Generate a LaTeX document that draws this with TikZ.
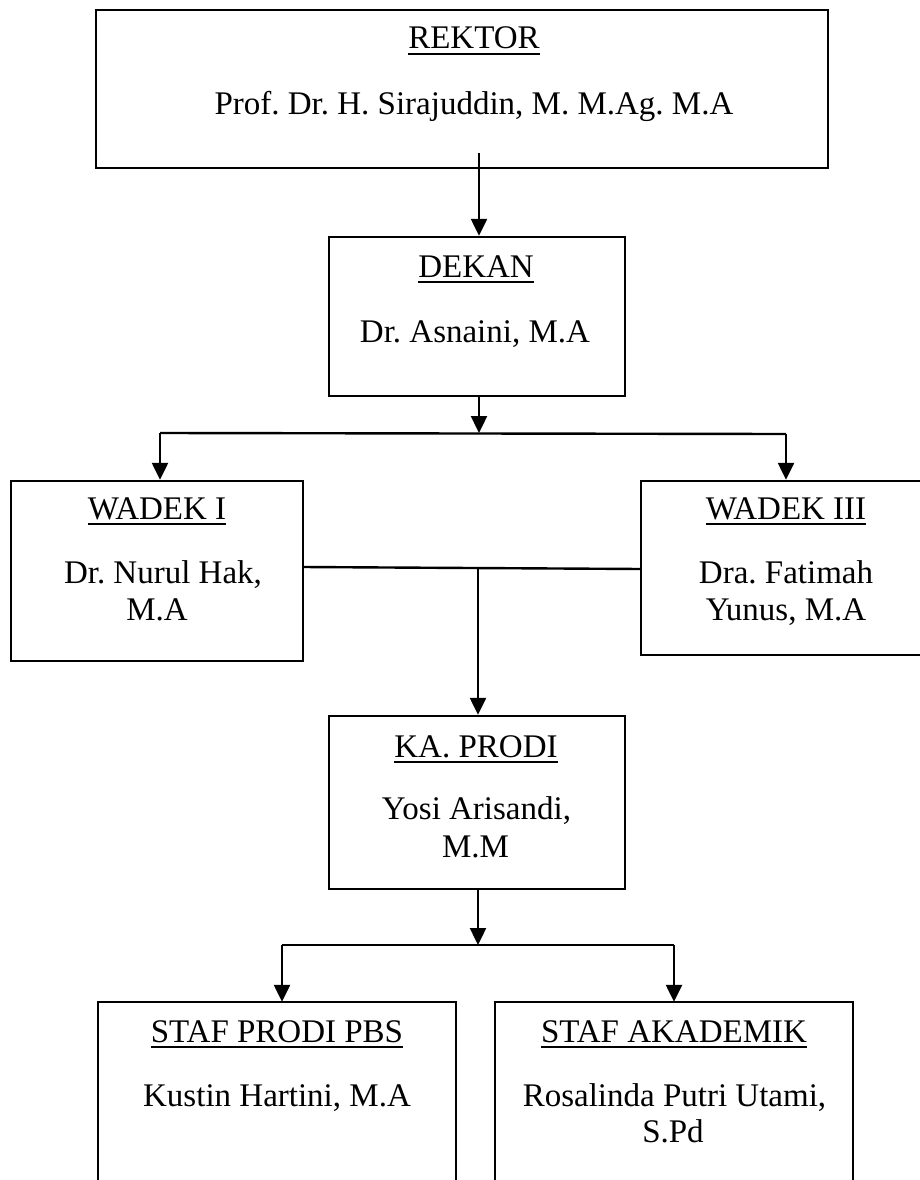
\documentclass[tikz,border=0pt]{standalone}
\usepackage{fontspec}
\setmainfont{Liberation Serif}
\usetikzlibrary{arrows.meta}
\newcommand\ulbox[1]{\setbox0\hbox{#1}\rlap{\rule[-6pt]{\wd0}{2pt}}\box0}
\frenchspacing
\begin{document}
\begin{tikzpicture}[x=1pt,y=-1pt,
  boxshape/.style={draw, line width=2.4pt, rectangle, inner sep=0pt},
  openshape/.style={rectangle, inner sep=0pt},
  txt/.style={anchor=base, inner sep=0pt, font=\fontsize{33pt}{37pt}\selectfont\frenchspacing},
  arr/.style={line width=2.4pt, -{Triangle[length=17pt,width=16pt]}},
  conn/.style={line width=2.4pt}]
\useasboundingbox (0,0) rectangle (920,1180);
\clip (0,0) rectangle (920,1180);

% boxes
\node[boxshape, minimum width=732pt, minimum height=158pt] (rek) at (462,89) {};
\node[boxshape, minimum width=296pt, minimum height=159pt] (dek) at (477,316.5) {};
\node[boxshape, minimum width=292pt, minimum height=180pt] (wd1) at (157,571) {};
\node[boxshape, minimum width=290pt, minimum height=174pt] (wd3) at (786,568) {};
\node[boxshape, minimum width=296pt, minimum height=173pt] (kap) at (477,802.5) {};
\node[openshape, minimum width=358pt, minimum height=200pt] (sp) at (277,1102) {};
\node[openshape, minimum width=358pt, minimum height=200pt] (sa) at (674,1102) {};
\draw[conn] (sp.south west) -- (sp.north west) -- (sp.north east) -- (sp.south east);
\draw[conn] (sa.south west) -- (sa.north west) -- (sa.north east) -- (sa.south east);

% texts
\node[txt] (rekT) at (474,49) {\ulbox{REKTOR}};
\node[txt] (rekN) at (474,115) {Prof. Dr. H. Sirajuddin, M. M.Ag. M.A};
\node[txt] (dekT) at (476,277) {\ulbox{DEKAN}};
\node[txt] (dekN) at (475,342) {Dr. Asnaini, M.A};
\node[txt] (wd1T) at (157,519) {\ulbox{WADEK I}};
\node[txt] (wd1N) at (163,583) {Dr. Nurul Hak,};
\node[txt] (wd1M) at (157,620) {M.A};
\node[txt] (wd3T) at (786,519) {\ulbox{WADEK III}};
\node[txt] (wd3N) at (786,583) {Dra. Fatimah};
\node[txt] (wd3M) at (786,620) {Yunus, M.A};
\node[txt] (kapT) at (476,757) {\ulbox{KA. PRODI}};
\node[txt] (kapN) at (476.5,819) {Yosi Arisandi,};
\node[txt] (kapM) at (475.5,857) {M.M};
\node[txt] (spT) at (277,1042) {\ulbox{STAF PRODI PBS}};
\node[txt] (spN) at (277,1106) {Kustin Hartini, M.A};
\node[txt] (saT) at (674,1042) {\ulbox{STAF AKADEMIK}};
\node[txt] (saN) at (674.5,1106) {Rosalinda Putri Utami,};
\node[txt] (saM) at (673,1142) {S.Pd};

% connectors
\coordinate (rekout) at (479,153);
\draw[arr] (rekout) -- (rekout |- dek.north);
\coordinate (j1) at (479,433);
\coordinate (j1L) at (160,433);
\coordinate (j1R) at (786,434);
\draw[arr] (j1 |- dek.south) -- (j1);
\draw[conn] (j1L) -- (j1R);
\draw[arr] (j1L) -- (j1L |- wd1.north);
\draw[arr] (j1R) -- (j1R |- wd3.north);
\coordinate (wd1c) at (303,567);
\coordinate (wd3c) at (641,569);
\draw[conn] (wd1c) -- (wd3c);
\coordinate (j2) at (478,568);
\draw[arr] (j2) -- (j2 |- kap.north);
\coordinate (j3) at (478,945);
\coordinate (j3L) at (282,945);
\coordinate (j3R) at (674,945);
\draw[arr] (j3 |- kap.south) -- (j3);
\draw[conn] (j3L) -- (j3R);
\draw[arr] (j3L) -- (j3L |- sp.north);
\draw[arr] (j3R) -- (j3R |- sa.north);
\end{tikzpicture}
\end{document}
